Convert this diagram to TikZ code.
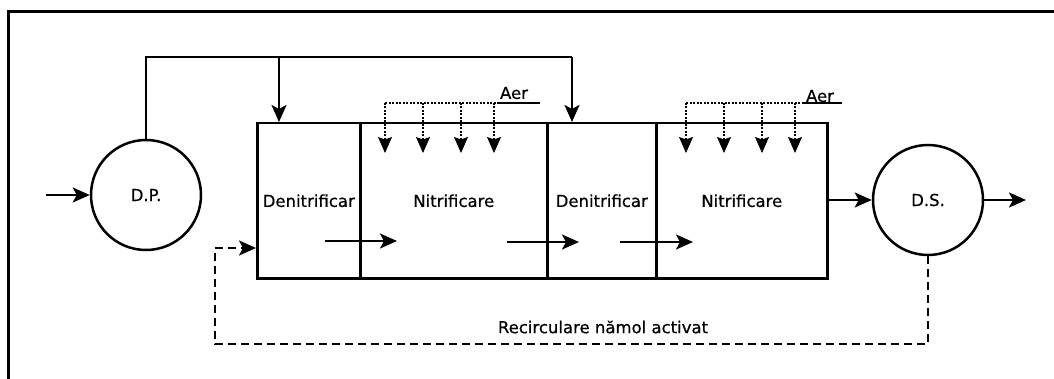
\documentclass[tikz,border=0pt]{standalone}
\usepackage{fontspec}
\setmainfont[FakeBold=0.6]{DejaVu Sans}
\usetikzlibrary{arrows.meta}
\begin{document}
\begin{tikzpicture}[x=1pt,y=-1pt,
  every node/.style={font=\fontsize{16.5}{18}\selectfont},
  flow/.style={line width=2.5pt,-{Stealth[length=17pt,width=15pt,inset=4pt]}},
  air/.style={line width=1.2pt,dash pattern=on 2pt off 1.5pt,-{Stealth[length=16pt,width=14pt,inset=2.5pt]}},
  airline/.style={line width=1.2pt,dash pattern=on 2pt off 1.5pt},
  recirc/.style={line width=2.5pt,dash pattern=on 8pt off 5pt,-{Stealth[length=17pt,width=15pt,inset=4pt]}},
  basin/.style={draw,line width=2.5pt,rectangle,inner sep=0pt,anchor=north west,minimum height=155pt},
  settler/.style={draw,line width=2.5pt,circle,minimum size=110pt,inner sep=0pt}]
\useasboundingbox (0,0) rectangle (1054,379);

% outer frame
\draw[line width=3pt] (1054,12) -- (8,12) -- (8,379);

% settlers
\node[settler] (dp) at (146,195) {D.P.};
\node[settler] (ds) at (928,200) {D.S.};

% reactor zones
\node[basin,minimum width=103pt] (den1) at (256,122) {Denitrificar};
\node[basin,minimum width=187pt] (nit1) at (359,122) {Nitrificare};
\node[basin,minimum width=109pt] (den2) at (546,122) {Denitrificar};
\node[basin,minimum width=171pt] (nit2) at (655,122) {Nitrificare};

% influent and effluent
\coordinate (in) at (46,195);
\coordinate (out) at (1026,200);
\draw[flow] (in) -- (dp.west);
\draw[flow] (nit2.east |- ds.west) -- (ds.west);
\draw[flow] (ds.east) -- (out);

% step-feed of primary effluent
\coordinate (top) at (146,57);
\coordinate (feedA) at (279,57);
\coordinate (feedB) at (572,57);
\draw[line width=2.5pt] (dp.north) -- (top) -- (feedB);
\draw[flow] (feedA) -- (feedA |- den1.north);
\draw[flow] (feedB) -- (feedB |- den2.north);

% flow through the zones
\coordinate (f1a) at (325,241); \coordinate (f1b) at (397,241);
\coordinate (f2a) at (507,242); \coordinate (f2b) at (579,242);
\coordinate (f3a) at (620,242); \coordinate (f3b) at (693,242);
\draw[flow] (f1a) -- (f1b);
\draw[flow] (f2a) -- (f2b);
\draw[flow] (f3a) -- (f3b);

% aeration headers: dotted manifold, solid stub under the label
\coordinate (airA1) at (385,103); \coordinate (airA0) at (498,103); \coordinate (airA2) at (540,103);
\draw[airline] (airA1) -- (airA0);
\draw[line width=1.5pt] (airA0) -- (airA2);
\node (aerA) at (514,93) {Aer};
\foreach \x in {385,423,461,494}
  \draw[air] (\x,103) -- (\x,153);
\coordinate (airB1) at (686,103); \coordinate (airB0) at (803,103); \coordinate (airB2) at (842,103);
\draw[airline] (airB1) -- (airB0);
\draw[line width=1.5pt] (airB0) -- (airB2);
\node (aerB) at (820,96) {Aer};
\foreach \x in {686,724,762,795}
  \draw[air] (\x,103) -- (\x,153);

% return activated sludge
\coordinate (r1) at (928,344);
\coordinate (r2) at (215,344);
\coordinate (r3) at (215,248);
\draw[recirc] (ds.south) -- (r1) -- (r2) -- (r3) -- (r3 -| den1.west);
\node (rlabel) at (603,327) {Recirculare nămol activat};
\end{tikzpicture}
\end{document}
